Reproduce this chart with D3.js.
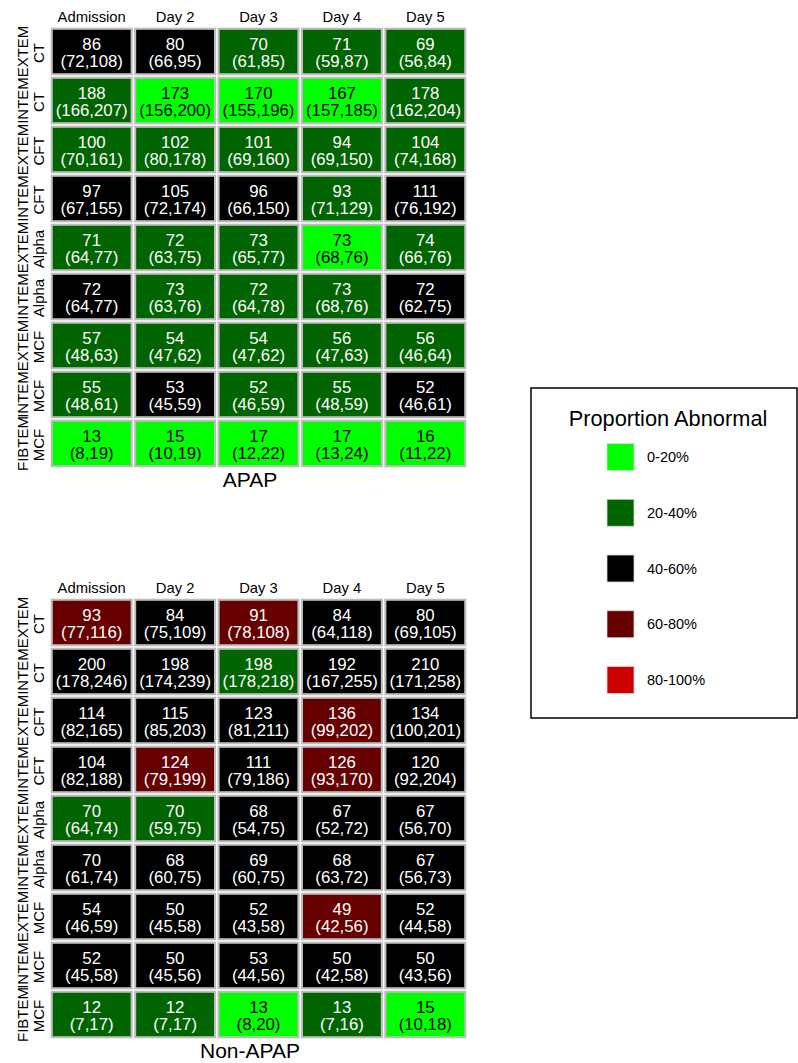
<!DOCTYPE html>
<html>
<head>
<meta charset="utf-8">
<script src="https://cdn.jsdelivr.net/npm/d3@7/dist/d3.min.js"></script>
<style>
  html, body { margin: 0; padding: 0; background: #ffffff; }
  svg { display: block; font-family: "Liberation Sans", Arial, sans-serif; }
</style>
</head>
<body>
<svg id="chart" width="798" height="1063"></svg>
<script>
// Column and row labels
const days = ["Admission", "Day 2", "Day 3", "Day 4", "Day 5"];
const assays = ["EXTEM", "INTEM", "EXTEM", "INTEM", "EXTEM", "INTEM", "EXTEM", "INTEM", "FIBTEM"];
const params = ["CT", "CT", "CFT", "CFT", "Alpha", "Alpha", "MCF", "MCF", "MCF"];

// Proportion-abnormal bands and their fills
const bands = ["0-20%", "20-40%", "40-60%", "60-80%", "80-100%"];
const bandColors = ["#00ff00", "#006400", "#000000", "#660000", "#cd0000"];

// APAP: median (IQR low, IQR high) and band index per cell
const apapMedian = [
  [86, 80, 70, 71, 69],
  [188, 173, 170, 167, 178],
  [100, 102, 101, 94, 104],
  [97, 105, 96, 93, 111],
  [71, 72, 73, 73, 74],
  [72, 73, 72, 73, 72],
  [57, 54, 54, 56, 56],
  [55, 53, 52, 55, 52],
  [13, 15, 17, 17, 16]
];
const apapLow = [
  [72, 66, 61, 59, 56],
  [166, 156, 155, 157, 162],
  [70, 80, 69, 69, 74],
  [67, 72, 66, 71, 76],
  [64, 63, 65, 68, 66],
  [64, 63, 64, 68, 62],
  [48, 47, 47, 47, 46],
  [48, 45, 46, 48, 46],
  [8, 10, 12, 13, 11]
];
const apapHigh = [
  [108, 95, 85, 87, 84],
  [207, 200, 196, 185, 204],
  [161, 178, 160, 150, 168],
  [155, 174, 150, 129, 192],
  [77, 75, 77, 76, 76],
  [77, 76, 78, 76, 75],
  [63, 62, 62, 63, 64],
  [61, 59, 59, 59, 61],
  [19, 19, 22, 24, 22]
];
const apapBand = [
  [2, 2, 1, 1, 1],
  [1, 0, 0, 0, 1],
  [1, 1, 1, 1, 1],
  [2, 2, 2, 1, 2],
  [1, 1, 1, 0, 1],
  [2, 1, 1, 1, 2],
  [1, 1, 1, 1, 1],
  [1, 2, 1, 1, 2],
  [0, 0, 0, 0, 0]
];

// Non-APAP
const nonMedian = [
  [93, 84, 91, 84, 80],
  [200, 198, 198, 192, 210],
  [114, 115, 123, 136, 134],
  [104, 124, 111, 126, 120],
  [70, 70, 68, 67, 67],
  [70, 68, 69, 68, 67],
  [54, 50, 52, 49, 52],
  [52, 50, 53, 50, 50],
  [12, 12, 13, 13, 15]
];
const nonLow = [
  [77, 75, 78, 64, 69],
  [178, 174, 178, 167, 171],
  [82, 85, 81, 99, 100],
  [82, 79, 79, 93, 92],
  [64, 59, 54, 52, 56],
  [61, 60, 60, 63, 56],
  [46, 45, 43, 42, 44],
  [45, 45, 44, 42, 43],
  [7, 7, 8, 7, 10]
];
const nonHigh = [
  [116, 109, 108, 118, 105],
  [246, 239, 218, 255, 258],
  [165, 203, 211, 202, 201],
  [188, 199, 186, 170, 204],
  [74, 75, 75, 72, 70],
  [74, 75, 75, 72, 73],
  [59, 58, 58, 56, 58],
  [58, 56, 56, 58, 56],
  [17, 17, 20, 16, 18]
];
const nonBand = [
  [3, 2, 3, 2, 2],
  [2, 2, 1, 2, 2],
  [2, 2, 2, 3, 2],
  [2, 3, 2, 3, 2],
  [1, 1, 2, 2, 2],
  [2, 2, 2, 2, 2],
  [2, 2, 2, 3, 2],
  [2, 2, 2, 2, 2],
  [1, 1, 0, 1, 0]
];

const svg = d3.select("#chart");
const color = d3.scaleOrdinal().domain(d3.range(bands.length)).range(bandColors);
const rowIdx = d3.range(assays.length);

function drawPanel(top, title, median, low, high, band) {
  const left = 50, right = 467, rowH = 49;
  const bottom = top + rowH * rowIdx.length;
  const x = d3.scaleBand().domain(days).range([left, right]);
  const y = d3.scaleBand().domain(rowIdx).range([top, bottom]);
  const g = svg.append("g");

  const cells = [];
  rowIdx.forEach(r => days.forEach((d, c) => cells.push({
    r, day: d, med: median[r][c], lo: low[r][c], hi: high[r][c], band: band[r][c]
  })));

  // Each tile: grey outline ring, then the band fill inside it
  const outer = 0.7, inset = 2.8;
  const cell = g.selectAll("g.cell").data(cells).join("g").attr("class", "cell");
  cell.append("rect")
    .attr("x", d => x(d.day) + outer)
    .attr("y", d => y(d.r) + outer)
    .attr("width", x.bandwidth() - 2 * outer)
    .attr("height", y.bandwidth() - 2 * outer)
    .attr("fill", "#bdbdbd");
  cell.append("rect")
    .attr("x", d => x(d.day) + inset)
    .attr("y", d => y(d.r) + inset)
    .attr("width", x.bandwidth() - 2 * inset)
    .attr("height", y.bandwidth() - 2 * inset)
    .attr("fill", d => color(d.band));

  const txt = cell.append("text")
    .attr("text-anchor", "middle")
    .attr("font-size", 16.8)
    .attr("fill", d => d.band === 0 ? "#000000" : "#ffffff");
  txt.append("tspan")
    .attr("x", d => x(d.day) + x.bandwidth() / 2)
    .attr("y", d => y(d.r) + y.bandwidth() / 2 - 1.5)
    .text(d => d.med);
  txt.append("tspan")
    .attr("x", d => x(d.day) + x.bandwidth() / 2)
    .attr("y", d => y(d.r) + y.bandwidth() / 2 + 15)
    .text(d => `(${d.lo},${d.hi})`);

  // Column headers
  const ax = g.append("g")
    .attr("transform", `translate(0,${top})`)
    .call(d3.axisTop(x).tickSize(0).tickPadding(5));
  ax.select(".domain").remove();
  ax.selectAll("text")
    .attr("font-size", 14.8)
    .attr("font-family", "Liberation Sans, Arial, sans-serif")
    .attr("fill", "#000000");

  // Row labels: assay on the outer line, parameter on the inner line
  const lab = g.selectAll("g.rowlab").data(rowIdx).join("g").attr("class", "rowlab");
  lab.append("text")
    .attr("transform", r => `translate(28,${y(r) + y.bandwidth() / 2}) rotate(-90)`)
    .attr("text-anchor", "middle")
    .attr("font-size", 15)
    .text(r => assays[r]);
  lab.append("text")
    .attr("transform", r => `translate(43.5,${y(r) + y.bandwidth() / 2 + 1.5}) rotate(-90)`)
    .attr("text-anchor", "middle")
    .attr("font-size", 15)
    .text(r => params[r]);

  g.append("text")
    .attr("x", 250)
    .attr("y", bottom + 19)
    .attr("text-anchor", "middle")
    .attr("font-size", 21)
    .text(title);
}

drawPanel(27, "APAP", apapMedian, apapLow, apapHigh, apapBand);
drawPanel(598, "Non-APAP", nonMedian, nonLow, nonHigh, nonBand);

// Legend
const legend = svg.append("g");
legend.append("rect")
  .attr("x", 531).attr("y", 388)
  .attr("width", 266).attr("height", 330)
  .attr("fill", "none").attr("stroke", "#000000").attr("stroke-width", 1.5);
legend.append("text")
  .attr("x", 668).attr("y", 426)
  .attr("text-anchor", "middle")
  .attr("font-size", 21.8)
  .text("Proportion Abnormal");
const ly = d3.scalePoint().domain(d3.range(bands.length)).range([457, 680]);
const item = legend.selectAll("g.item").data(d3.range(bands.length)).join("g").attr("class", "item");
item.append("rect")
  .attr("x", 607).attr("y", i => ly(i) - 13.5)
  .attr("width", 27).attr("height", 27)
  .attr("fill", i => color(i))
  .attr("stroke", "#d8d8d8").attr("stroke-width", 0.8);
item.append("text")
  .attr("x", 647).attr("y", i => ly(i) + 5)
  .attr("font-size", 14.5)
  .text(i => bands[i]);
</script>
</body>
</html>
